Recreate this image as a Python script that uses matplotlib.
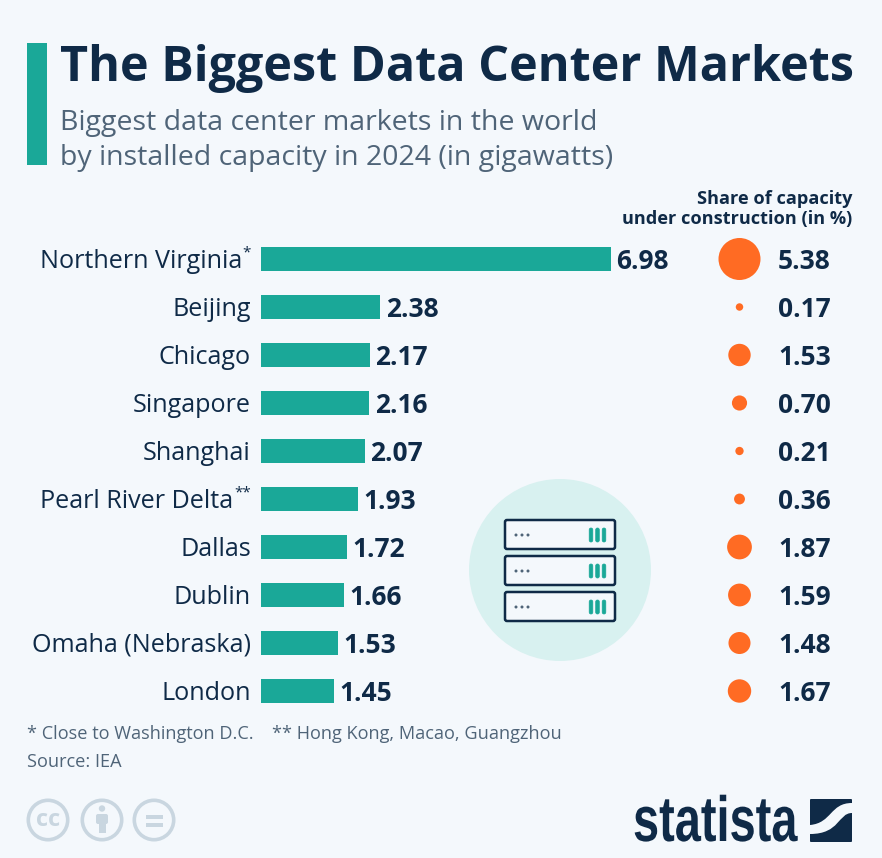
import matplotlib
matplotlib.use("Agg")
import matplotlib.pyplot as plt
import matplotlib.patheffects as pe
from matplotlib.patches import Circle, FancyBboxPatch, Rectangle, PathPatch
from matplotlib.path import Path
from matplotlib.transforms import Affine2D

# values
cities = ["Northern Virginia", "Beijing", "Chicago", "Singapore", "Shanghai",
          "Pearl River Delta", "Dallas", "Dublin", "Omaha (Nebraska)", "London"]
city_marks = ["*", "", "", "", "", "**", "", "", "", ""]
capacity = [6.98, 2.38, 2.17, 2.16, 2.07, 1.93, 1.72, 1.66, 1.53, 1.45]
share = [5.38, 0.17, 1.53, 0.70, 0.21, 0.36, 1.87, 1.59, 1.48, 1.67]
rows = list(range(len(cities)))

BG = "#f4f8fc"
NAVY = "#0f2a47"
GREY = "#4f6478"
TEAL = "#1aa898"
ORANGE = "#ff6b23"
LIGHT = "#c9d6e0"
W, H = 882, 858


class Squeeze(pe.AbstractPathEffect):
    # narrows a text about a pixel x, there is no condensed bold font installed
    def __init__(self, x0, factor):
        super().__init__()
        self.x0, self.factor = x0, factor

    def draw_path(self, renderer, gc, tpath, affine, rgbFace=None):
        squeeze = Affine2D().translate(-self.x0, 0).scale(self.factor, 1).translate(self.x0, 0)
        renderer.draw_path(gc, tpath, affine + squeeze, rgbFace)


plt.rcParams["font.family"] = ["Open Sans", "DejaVu Sans"]
fig = plt.figure(figsize=(W / 100, H / 100), dpi=100, facecolor=BG)

# overlay in pixel coordinates for header, icon and footer
bg = fig.add_axes([0, 0, 1, 1])
bg.set_xlim(0, W)
bg.set_ylim(H, 0)
bg.axis("off")

bg.add_patch(Rectangle((27, 43), 20, 122, color=TEAL, lw=0))
bg.text(60, 81, "The Biggest Data Center Markets", fontsize=34.9, fontweight="bold",
        color=NAVY, va="baseline")
bg.text(60, 130, "Biggest data center markets in the world", fontsize=20.5,
        color=GREY, va="baseline")
bg.text(60, 165.5, "by installed capacity in 2024 (in gigawatts)", fontsize=20.5,
        color=GREY, va="baseline")
bg.text(852, 204, "Share of capacity", fontsize=13.05, fontweight="bold", color=NAVY,
        ha="right", va="baseline")
bg.text(852, 224, "under construction (in %)", fontsize=13.05, fontweight="bold", color=NAVY,
        ha="right", va="baseline")

# server icon
bg.add_patch(Circle((560, 570), 91, color="#d8f1f0", lw=0))
for top in [520, 556, 592]:
    bg.add_patch(FancyBboxPatch((505, top), 110, 29, boxstyle="round,pad=0,rounding_size=2",
                                fc=BG, ec=NAVY, lw=1.8))
    for dx in [516, 522, 528]:
        bg.add_patch(Circle((dx, top + 15), 1.5, color=GREY, lw=0))
    for dx in [591, 597.5, 604]:
        bg.add_patch(FancyBboxPatch((dx - 1.8, top + 8), 3.6, 14, boxstyle="round,pad=0,rounding_size=1.8",
                                    fc=TEAL, ec=TEAL, lw=0.5))

# footer
bg.text(27, 739, "* Close to Washington D.C.", fontsize=13.1, color=GREY, va="baseline")
bg.text(272, 739, "** Hong Kong, Macao, Guangzhou", fontsize=13.1, color=GREY, va="baseline")
bg.text(27, 767, "Source: IEA", fontsize=13.1, color=GREY, va="baseline")

for cx in [48, 102, 154]:
    bg.add_patch(Circle((cx, 820), 19.7, fc="none", ec=LIGHT, lw=2.6))
bg.text(48, 819.5, "cc", fontsize=17, fontweight="bold", color=LIGHT, ha="center", va="center")
bg.add_patch(Circle((102, 808.5), 3.2, color=LIGHT, lw=0))
bg.add_patch(FancyBboxPatch((96, 814), 12, 10, boxstyle="round,pad=0,rounding_size=2", color=LIGHT, lw=0))
bg.add_patch(Rectangle((98.5, 822), 7, 11, color=LIGHT, lw=0))
bg.add_patch(Rectangle((146, 815), 17, 4, color=LIGHT, lw=0))
bg.add_patch(Rectangle((146, 823), 17, 4, color=LIGHT, lw=0))

bg.text(633, 841, "statista", fontsize=46, fontweight="bold", color=NAVY, va="baseline",
        family="Liberation Sans", path_effects=[Squeeze(633, 0.735)])
bg.add_patch(FancyBboxPatch((810, 799), 42, 43, boxstyle="round,pad=0,rounding_size=1", color=NAVY, lw=0))
swoosh = Path([(810, 825), (832, 823), (830, 803), (852, 803),
               (852, 813), (838, 813), (840, 834), (810, 834), (810, 825)],
              [Path.MOVETO, Path.CURVE4, Path.CURVE4, Path.CURVE4,
               Path.LINETO, Path.CURVE4, Path.CURVE4, Path.CURVE4, Path.CLOSEPOLY])
bg.add_patch(PathPatch(swoosh, fc=BG, ec="none"))

# bars: 50.14 px per gigawatt, 48 px per row
top_px, bot_px = 235, 715
ax = fig.add_axes([261 / W, 1 - bot_px / H, 440 / W, (bot_px - top_px) / H])
ax.patch.set_alpha(0)
ax.set_xlim(0, 440 / 50.14)
ax.set_ylim(len(rows) - 0.5, -0.5)
ax.barh(rows, capacity, height=0.5, color=TEAL)
ax.set_xticks([])
ax.set_yticks([])
for s in ax.spines.values():
    s.set_visible(False)
for r, city, mark, v in zip(rows, cities, city_marks, capacity):
    # small raised star after the name, the name ends where the star starts
    star_w = 6.3 * len(mark)
    ax.annotate(city, (0, r), xytext=(-7.2 - star_w, 0.7), textcoords="offset points",
                fontsize=18.1, color=NAVY, ha="right", va="center_baseline")
    if mark:
        ax.annotate(mark, (0, r), xytext=(-7.2, 6), textcoords="offset points",
                    fontsize=11, color=NAVY, ha="right", va="center_baseline")
    ax.annotate(f"{v:.2f}", (v, r), xytext=(3.9, 0.7), textcoords="offset points",
                fontsize=19, fontweight="bold", color=NAVY, va="center_baseline")

# bubbles, area proportional to share
ax2 = fig.add_axes([700 / W, 1 - bot_px / H, 182 / W, (bot_px - top_px) / H])
ax2.axis("off")
ax2.set_xlim(0, 182)
ax2.set_ylim(len(rows) - 0.5, -0.5)
ax2.scatter([39.5] * len(rows), rows, s=[170 * v for v in share], color=ORANGE, linewidths=0)
for r, v in zip(rows, share):
    ax2.annotate(f"{v:.2f}", (78, r), xytext=(0, 0.7), textcoords="offset points",
                 fontsize=19, fontweight="bold", color=NAVY, va="center_baseline")

fig.savefig("out.png", dpi=100, facecolor=BG)
